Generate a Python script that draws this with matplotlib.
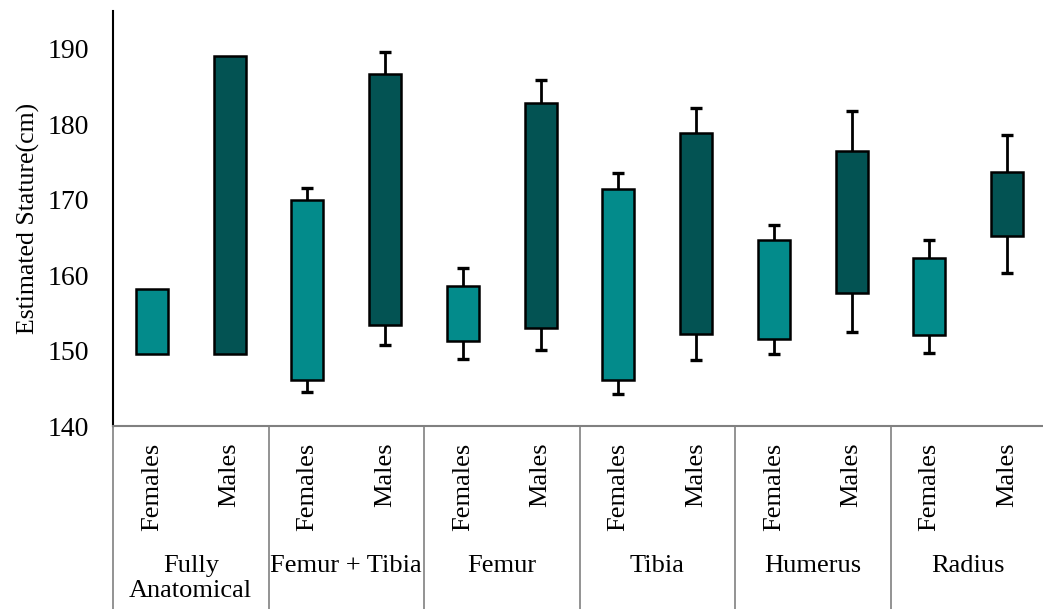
import matplotlib.pyplot as plt

plt.rcParams['font.family'] = ['Liberation Serif', 'DejaVu Serif']

groups = ['Fully\nAnatomical', 'Femur + Tibia', 'Femur', 'Tibia', 'Humerus', 'Radius']
sexes = ['Females', 'Males']

# per bar, order: group by group, Females then Males
bar_low = [149.6, 149.6, 146.1, 153.4, 151.2, 153.0, 146.1, 152.2, 151.5, 157.6, 152.0, 165.2]
bar_high = [158.1, 189.0, 170.0, 186.7, 158.6, 182.8, 171.4, 178.8, 164.7, 176.5, 162.2, 173.7]
whisker_low = [None, None, 144.5, 150.7, 148.9, 150.1, 144.2, 148.8, 149.5, 152.5, 149.7, 160.3]
whisker_high = [None, None, 171.6, 189.6, 161.0, 185.8, 173.5, 182.2, 166.7, 181.7, 164.6, 178.6]

colors = {'Females': '#038b8b', 'Males': '#035353'}

fig = plt.figure(figsize=(10.43, 6.09), dpi=100)
ax = fig.add_axes([113 / 1043, 183 / 609, 933 / 1043, 415 / 609])

xs = list(range(len(bar_low)))
for i in xs:
    sex = sexes[i % 2]
    ax.bar(i, bar_high[i] - bar_low[i], bottom=bar_low[i], width=0.41,
           color=colors[sex], edgecolor='black', linewidth=1.8, zorder=3)
    if whisker_high[i] is not None:
        ax.vlines(i, bar_high[i], whisker_high[i], color='black', lw=2, zorder=2)
        ax.vlines(i, whisker_low[i], bar_low[i], color='black', lw=2, zorder=2)
        ax.plot([i, i], [whisker_low[i], whisker_high[i]], ls='none', marker='_',
                ms=9, mew=2.4, color='black', zorder=2)

ax.set_xlim(-0.5, len(xs) - 0.5)
ax.set_ylim(140, 195)
ax.set_yticks([140, 150, 160, 170, 180, 190])
ax.tick_params(axis='y', length=0, pad=17, labelsize=20)
ax.set_xticks([])
ax.set_ylabel('Estimated Stature(cm)', fontsize=18.5, labelpad=6)

for s in ['top', 'right']:
    ax.spines[s].set_visible(False)
ax.spines['left'].set_linewidth(1.5)
ax.spines['bottom'].set_color('#808080')
ax.spines['bottom'].set_linewidth(1.5)

trans = ax.get_xaxis_transform()
for k in range(len(groups) + 1):
    xd = 2 * k - 0.5
    ax.plot([xd, xd], [0, -0.45], transform=trans, color='#808080', lw=1.2, clip_on=False)

for i in xs:
    ax.text(i, -0.04, sexes[i % 2], transform=trans, rotation=90, ha='center', va='top', fontsize=19)

for k, g in enumerate(groups):
    ax.text(2 * k + 0.5, -0.31, g, transform=trans, ha='center', va='top', fontsize=19, linespacing=1.2)

fig.savefig('out.png', dpi=100)
